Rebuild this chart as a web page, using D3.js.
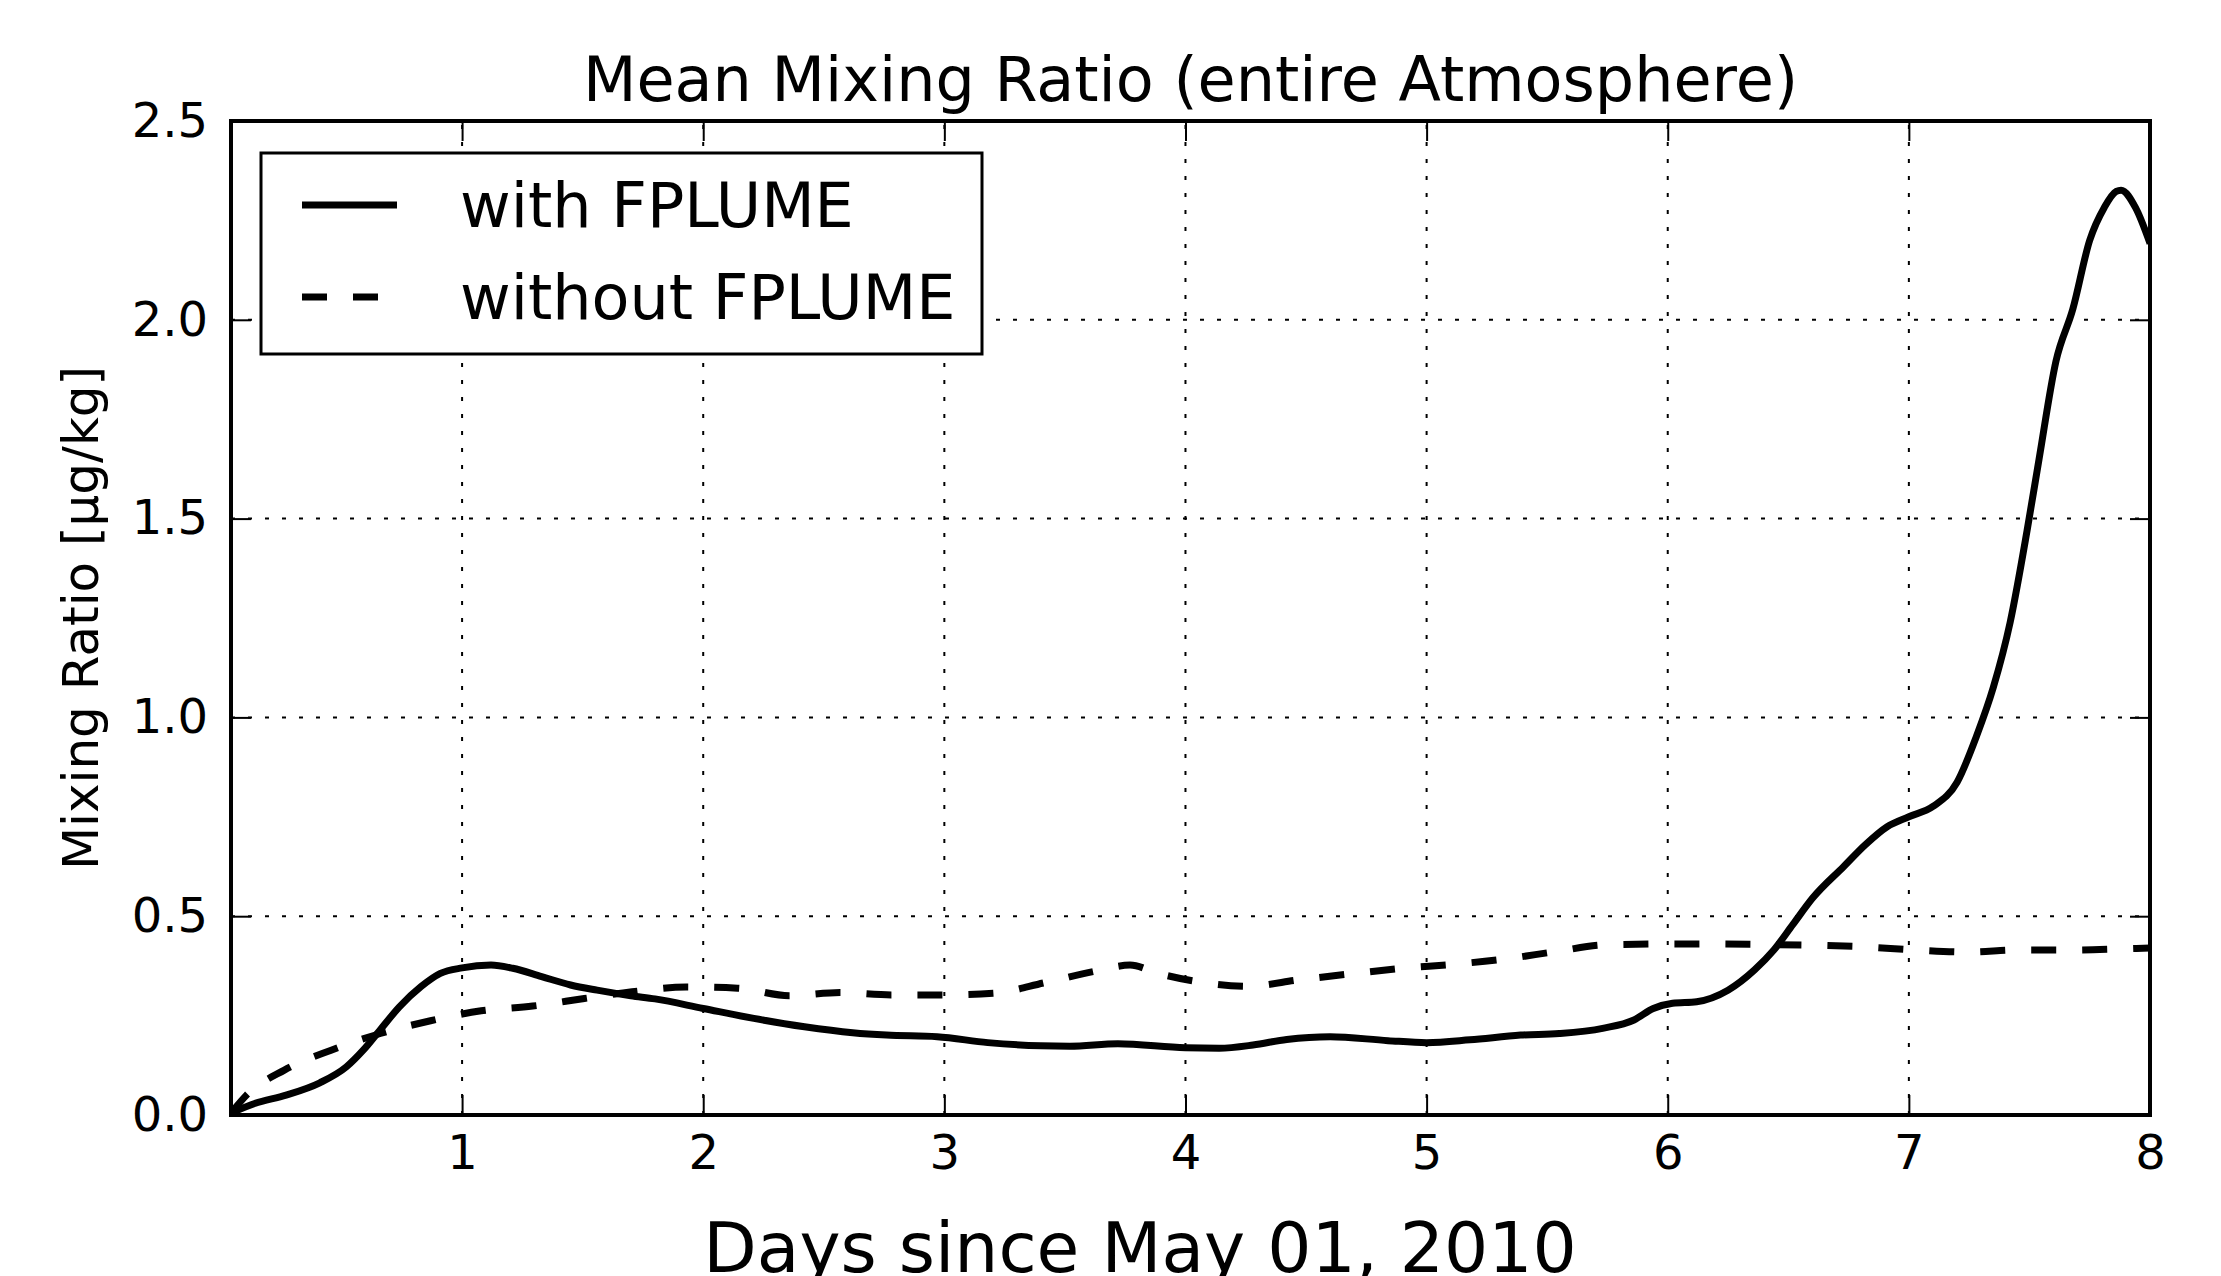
<!DOCTYPE html>
<html><head><meta charset="utf-8">
<script src="https://cdn.jsdelivr.net/npm/d3@7"></script>
<style>
body{margin:0;background:#fff;}
svg{display:block;}
text{font-family:"DejaVu Sans",sans-serif;fill:#000;}
</style>
</head><body>
<svg id="chart" width="2221" height="1276"></svg>
<script>
// ---- data ----
const withDays = [0.042, 0.14, 0.27, 0.41, 0.52, 0.59, 0.66, 0.74, 0.83, 0.91, 1.0, 1.12, 1.21, 1.33, 1.45, 1.56, 1.70, 1.80, 2.0, 2.21, 2.42, 2.62, 2.76, 2.97, 3.18, 3.40, 3.52, 3.72, 4.0, 4.14, 4.28, 4.42, 4.60, 4.84, 5.0, 5.18, 5.39, 5.55, 5.73, 5.86, 5.94, 6.02, 6.12, 6.25, 6.36, 6.44, 6.52, 6.60, 6.73, 6.82, 6.91, 7.0, 7.10, 7.20, 7.28, 7.35, 7.42, 7.49, 7.54, 7.61, 7.68, 7.75, 7.81, 7.86, 7.88, 7.94, 8.0];
const withValues = [0.005, 0.029, 0.05, 0.081, 0.121, 0.163, 0.214, 0.272, 0.323, 0.356, 0.370, 0.377, 0.369, 0.348, 0.327, 0.314, 0.300, 0.292, 0.268, 0.243, 0.222, 0.207, 0.201, 0.197, 0.182, 0.174, 0.173, 0.179, 0.169, 0.168, 0.176, 0.190, 0.197, 0.187, 0.182, 0.189, 0.201, 0.205, 0.218, 0.239, 0.268, 0.281, 0.285, 0.314, 0.365, 0.415, 0.480, 0.545, 0.625, 0.680, 0.725, 0.750, 0.776, 0.837, 0.952, 1.075, 1.239, 1.469, 1.650, 1.896, 2.027, 2.200, 2.282, 2.323, 2.326, 2.282, 2.192];
const withoutDays = [0.042, 0.106, 0.263, 0.457, 0.661, 0.869, 1.079, 1.293, 1.507, 1.705, 1.93, 2.143, 2.357, 2.568, 2.78, 2.99, 3.203, 3.418, 3.628, 3.77, 3.888, 4.043, 4.258, 4.471, 4.686, 4.90, 5.111, 5.321, 5.536, 5.743, 5.961, 6.171, 6.386, 6.6, 6.81, 7.028, 7.243, 7.457, 7.671, 7.886, 8.0];
const withoutValues = [0.005, 0.050, 0.113, 0.163, 0.205, 0.237, 0.262, 0.274, 0.293, 0.310, 0.322, 0.319, 0.300, 0.308, 0.302, 0.302, 0.306, 0.333, 0.362, 0.377, 0.356, 0.336, 0.324, 0.340, 0.355, 0.369, 0.379, 0.392, 0.411, 0.428, 0.430, 0.430, 0.429, 0.427, 0.423, 0.415, 0.410, 0.415, 0.415, 0.418, 0.420];
const seriesNames = ["with FPLUME", "without FPLUME"];
const xTicks = [1, 2, 3, 4, 5, 6, 7, 8];
const yTicks = [0, 0.5, 1.0, 1.5, 2.0, 2.5];
const xDomain = [1/24, 8];
const yDomain = [0, 2.5];
const titleText = "Mean Mixing Ratio (entire Atmosphere)";
const xLabelText = "Days since May 01, 2010";
const yLabelText = "Mixing Ratio [µg/kg]";

// ---- layout ----
const L = 231, R = 2150, T = 121, B = 1115;
const svg = d3.select("#chart");
svg.append("rect").attr("width", 2221).attr("height", 1276).attr("fill", "#fff");

const x = d3.scaleLinear().domain(xDomain).range([L, R]);
const y = d3.scaleLinear().domain(yDomain).range([B, T]);

// grid
const grid = svg.append("g");
grid.selectAll(".vg").data(xTicks.filter(d => d < 8)).enter().append("line")
  .attr("x1", d => x(d)).attr("x2", d => x(d)).attr("y1", B).attr("y2", T)
  .attr("stroke", "#000").attr("stroke-width", 2).attr("stroke-dasharray", "4,13");
grid.selectAll(".hg").data(yTicks.filter(d => d > 0 && d < 2.5)).enter().append("line")
  .attr("x1", L).attr("x2", R).attr("y1", d => y(d)).attr("y2", d => y(d))
  .attr("stroke", "#000").attr("stroke-width", 2).attr("stroke-dasharray", "4,13");

// clip
svg.append("clipPath").attr("id", "clip").append("rect")
  .attr("x", L).attr("y", T).attr("width", R - L).attr("height", B - T);

const line = d3.line().x(d => x(d[0])).y(d => y(d[1])).curve(d3.curveMonotoneX);
const withData = withDays.map((d, i) => [d, withValues[i]]);
const withoutData = withoutDays.map((d, i) => [d, withoutValues[i]]);

const plot = svg.append("g").attr("clip-path", "url(#clip)");
plot.append("path").datum(withoutData).attr("d", line)
  .attr("fill", "none").attr("stroke", "#000").attr("stroke-width", 7)
  .attr("stroke-dasharray", "25,26").attr("stroke-linecap", "butt");
plot.append("path").datum(withData).attr("d", line)
  .attr("fill", "none").attr("stroke", "#000").attr("stroke-width", 7)
  .attr("stroke-linejoin", "round");

// axes
const fmt = d3.format(".1f");
const axB = svg.append("g").attr("transform", `translate(0,${B})`)
  .call(d3.axisBottom(x).tickValues(xTicks).tickFormat(d3.format("d")).tickSize(-20).tickPadding(20));
const axT = svg.append("g").attr("transform", `translate(0,${T})`)
  .call(d3.axisTop(x).tickValues(xTicks).tickFormat("").tickSize(-20));
const axL = svg.append("g").attr("transform", `translate(${L},0)`)
  .call(d3.axisLeft(y).tickValues(yTicks).tickFormat(fmt).tickSize(-20).tickPadding(23));
const axR = svg.append("g").attr("transform", `translate(${R},0)`)
  .call(d3.axisRight(y).tickValues(yTicks).tickFormat("").tickSize(-20));
[axB, axT, axL, axR].forEach(g => {
  g.select(".domain").remove();
  g.selectAll(".tick line").attr("stroke", "#000").attr("stroke-width", 2);
  g.selectAll(".tick text").attr("font-size", 48).attr("font-family", "DejaVu Sans").attr("fill", "#000");
});

// frame
svg.append("rect").attr("x", L).attr("y", T).attr("width", R - L).attr("height", B - T)
  .attr("fill", "none").attr("stroke", "#000").attr("stroke-width", 4);

// title & labels
svg.append("text").attr("x", (L + R) / 2).attr("y", 101).attr("text-anchor", "middle")
  .attr("font-size", 62).text(titleText);
svg.append("text").attr("x", 1140).attr("y", 1272).attr("text-anchor", "middle")
  .attr("font-size", 69.5).text(xLabelText);
svg.append("text").attr("transform", `translate(98,${(T + B) / 2}) rotate(-90)`)
  .attr("text-anchor", "middle").attr("font-size", 50).text(yLabelText);

// legend
const lg = svg.append("g");
lg.append("rect").attr("x", 261).attr("y", 153).attr("width", 721).attr("height", 201)
  .attr("fill", "#fff").attr("stroke", "#000").attr("stroke-width", 3);
const rows = [205, 297];
seriesNames.forEach((name, i) => {
  lg.append("line").attr("x1", 302).attr("x2", 397).attr("y1", rows[i]).attr("y2", rows[i])
    .attr("stroke", "#000").attr("stroke-width", 7)
    .attr("stroke-dasharray", i === 1 ? "25,26" : null);
  lg.append("text").attr("x", 460).attr("y", rows[i] + 22).attr("font-size", 62).text(name);
});
</script>
</body></html>
